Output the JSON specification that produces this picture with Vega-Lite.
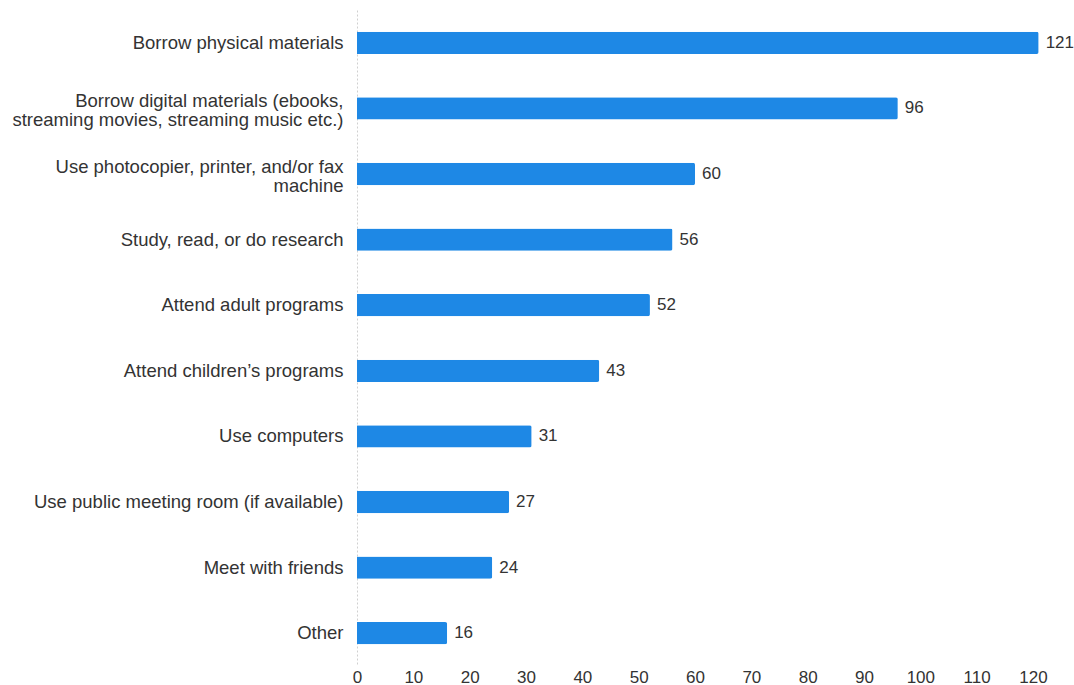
{
  "$schema": "https://vega.github.io/schema/vega-lite/v6.json",
  "autosize": "none",
  "width": 676,
  "height": 656,
  "padding": {"left": 357, "top": 10, "right": 41, "bottom": 19},
  "background": "white",
  "config": {"view": {"stroke": null}, "font": "Liberation Sans"},
  "data": {"values": [
    {"activity": "Borrow physical materials", "count": 121},
    {"activity": "Borrow digital materials (ebooks, streaming movies, streaming music etc.)", "count": 96},
    {"activity": "Use photocopier, printer, and/or fax machine", "count": 60},
    {"activity": "Study, read, or do research", "count": 56},
    {"activity": "Attend adult programs", "count": 52},
    {"activity": "Attend children’s programs", "count": 43},
    {"activity": "Use computers", "count": 31},
    {"activity": "Use public meeting room (if available)", "count": 27},
    {"activity": "Meet with friends", "count": 24},
    {"activity": "Other", "count": 16}
  ]},
  "encoding": {
    "y": {"field": "activity", "type": "nominal", "sort": null, "title": null,
      "scale": {"paddingInner": 0.66, "paddingOuter": 0.33},
      "axis": {"ticks": false, "grid": false, "labelFontSize": 18.5, "labelColor": "#333333", "labelPadding": 14, "labelLimit": 400, "labelLineHeight": 19,
        "labelOffset": {"condition": {"test": "indexof(datum.value, 'Borrow digital') == 0 || indexof(datum.value, 'Use photocopier') == 0", "value": -7}, "value": 0},
        "domain": true, "domainColor": "#d0d0d0", "domainDash": [2, 2], "domainWidth": 1,
        "labelExpr": "datum.value == 'Borrow digital materials (ebooks, streaming movies, streaming music etc.)' ? ['Borrow digital materials (ebooks,', 'streaming movies, streaming music etc.)'] : datum.value == 'Use photocopier, printer, and/or fax machine' ? ['Use photocopier, printer, and/or fax', 'machine'] : datum.value"}},
    "x": {"field": "count", "type": "quantitative", "title": null,
      "scale": {"domain": [0, 120], "nice": false},
      "axis": {"values": [0,10,20,30,40,50,60,70,80,90,100,110,120], "grid": false, "ticks": false, "domain": false, "labelFlush": false, "labelFontSize": 17, "labelColor": "#333333", "labelPadding": 3}}
  },
  "layer": [
    {"mark": {"type": "bar", "color": "#1e88e5", "cornerRadiusEnd": 2}},
    {"mark": {"type": "text", "align": "left", "baseline": "middle", "dx": 7, "fontSize": 17, "color": "#333333"},
      "encoding": {"text": {"field": "count", "type": "quantitative"}}}
  ]
}
